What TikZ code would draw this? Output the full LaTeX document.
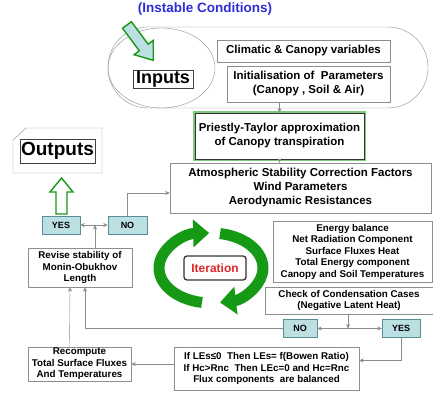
\documentclass[tikz,border=0pt]{standalone}
\usepackage{fontspec}
\setmainfont{Liberation Sans}
\usetikzlibrary{arrows.meta,positioning,shapes.geometric}
\definecolor{Frame}{HTML}{8E8E8E}
\definecolor{Leaf}{HTML}{169A16}
\definecolor{Ice}{HTML}{BCDFE4}
\definecolor{Teal}{HTML}{5A8E96}
\definecolor{Ink}{HTML}{2D2DD8}
\definecolor{Alarm}{HTML}{E02626}

\begin{document}
\begin{tikzpicture}[x=1pt,y=-1pt,
    box/.style={draw=Frame,fill=white,align=center,inner sep=1pt,
      font=\fontsize{11.5}{14}\selectfont\bfseries},
    small/.style={box,font=\fontsize{9.8}{11.5}\selectfont\bfseries},
    flag/.style={draw=Teal,fill=Ice,inner sep=0pt,minimum height=18pt,
      font=\fontsize{9}{10}\selectfont\bfseries},
    title/.style={draw=black!75,fill=white,inner sep=1pt,font=\fontsize{18}{18}\selectfont\bfseries},
    arr/.style={-{Stealth[length=4.5pt,width=4pt]},draw=black!45,thin},
    twoway/.style={{Stealth[length=4.5pt,width=4pt]}-{Stealth[length=4.5pt,width=4pt]},draw=black!45,thin},
    spin/.style={Leaf,line width=11pt,-{Triangle[length=16pt,width=27pt]}},
    block/.style={draw=Leaf,line width=1.4pt,line join=miter}
  ]
  \useasboundingbox (0,0) rectangle (433,398);

  % inputs group
  \node[font=\fontsize{13.5}{14}\selectfont\bfseries,text=Ink] (cond) at (205,9) {(Instable Conditions)};
  \draw[Frame] (108,27) [rounded corners=40pt] rectangle (428,108);
  \draw[Frame] (161.5,68) ellipse [x radius=53.5, y radius=40];
  \draw[block,fill=Ice] (122.6,28.3) -- (139.3,50.8) -- (134.1,54.7) -- (153.2,60.3)
    -- (153.3,40.4) -- (148.1,44.2) -- (131.4,21.7) -- cycle;
  \node[title,minimum width=60pt,minimum height=18pt] (inputs) at (163,79) {Inputs};
  \node[box,minimum width=173pt,minimum height=22pt] (clim) at (303.5,51) {Climatic \& Canopy variables};
  \node[box,minimum width=163pt,minimum height=36pt] (init) at (308.5,84) {Initialisation of\ \ Parameters\\(Canopy , Soil \& Air)};

  % main chain
  \node[box,draw=black!80,line width=0.7pt,preaction={draw=Leaf!55,line width=4.5pt},
    minimum width=169pt,minimum height=46pt] (priest) at (279.5,136) {Priestly-Taylor approximation\\of Canopy transpiration};
  \node[box,minimum width=261pt,minimum height=50pt] (atmos) at (300.5,188)
    {Atmospheric Stability Correction Factors\\Wind Parameters\\Aerodynamic Resistances};
  \node[small,minimum width=159pt,minimum height=61pt] (energy) at (352.5,251.5)
    {Energy balance\\Net Radiation Component\\Surface Fluxes Heat\\Total Energy component\\Canopy and Soil Temperatures};
  \node[small,minimum width=168pt,minimum height=27pt] (check) at (349,300.5)
    {Check of Condensation Cases\\(Negative Latent Heat)};
  \node[flag,minimum width=34pt] (no2) at (300,328.5) {NO};
  \node[flag,minimum width=38pt] (yes2) at (401,328.5) {YES};
  \node[small,minimum width=185pt,minimum height=43pt] (flux) at (266.5,368.5)
    {If LEs≤0\ \ Then LEs= f(Bowen Ratio)\\If Hc>Rnc\ \ Then LEc=0 and Hc=Rnc\\Flux components\ \ are balanced};
  \node[small,minimum width=103pt,minimum height=32pt] (recomp) at (79.5,364)
    {Recompute\\Total Surface Fluxes\\And Temperatures};
  \node[small,minimum width=104pt,minimum height=39pt] (revise) at (80,267.5)
    {Revise stability of\\Monin-Obukhov\\Length};
  \node[flag,minimum width=38pt] (yes1) at (61,225) {YES};
  \node[flag,minimum width=39pt] (no1) at (127.5,225) {NO};

  % outputs card
  \draw[Frame] (13,140) -- (26,128) -- (102,128) -- (102,173) -- (13,173) -- cycle;
  \node[title,font=\fontsize{19}{19}\selectfont\bfseries,minimum width=75pt,minimum height=24pt] (outputs) at (57.5,151) {Outputs};
  \draw[block,fill=white] (56,214) -- (56,192) -- (50,192) -- (61.5,178) -- (73,192)
    -- (67,192) -- (67,214) -- cycle;

  % iteration loop
  \draw[spin] (211,268) ++(100:52 and 35) arc[start angle=100, end angle=268, x radius=52, y radius=35];
  \draw[spin] (211,268) ++(280:52 and 35) arc[start angle=280, end angle=440, x radius=52, y radius=35];
  \node[draw=black!80,line width=1.3pt,rounded corners=3pt,fill=white,text=Alarm,
    font=\fontsize{12}{12}\selectfont\bfseries,minimum width=62pt,minimum height=24pt] (iter) at (215,268) {Iteration};

  % connectors
  \coordinate (meet1) at (95,225);
  \coordinate (meet2) at (348,328.5);
  \coordinate (back) at (85,328.5);
  \draw[arr] (init.south -| priest.north) -- (priest.north);
  \draw[arr] (priest.south) -- (priest.south |- atmos.north);
  \draw[arr] (no1.north) |- ([yshift=-5pt]atmos.west);
  \draw[twoway] (yes1.east) -- (no1.west);
  \draw[arr] (meet1 |- revise.north) -- (meet1);
  \draw[arr] (meet2 |- check.south) -- (meet2);
  \draw[twoway] (no2.east) -- (yes2.west);
  \draw[arr] (no2.west) -- (back) -- (back |- revise.south);
  \draw[arr] (yes2.south) |- ([yshift=8pt]flux.east);
  \draw[arr] (flux.west |- recomp.east) -- (recomp.east);
  \draw[arr] ([xshift=-10pt]recomp.north) -- ([xshift=-10pt]revise.south);
\end{tikzpicture}
\end{document}
